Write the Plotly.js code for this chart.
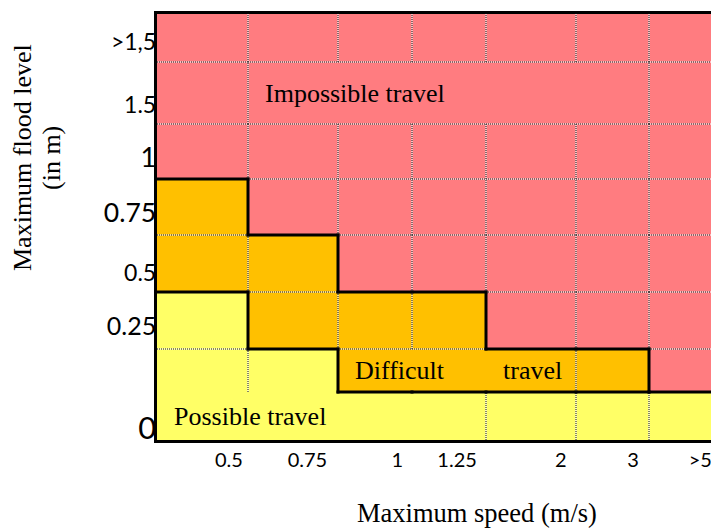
<!DOCTYPE html>
<html>
<head>
<meta charset="utf-8">
<script src="https://cdn.plot.ly/plotly-3.0.1.min.js"></script>
<style>
html,body{margin:0;padding:0;background:#fff;}
#chart{width:711px;height:528px;}
</style>
</head>
<body>
<div id="chart"></div>
<script>
// ---------------- DATA ----------------
// Speed classes (columns, left to right)
const speedLabels = ['0.5', '0.75', '1', '1.25', '2', '3', '>5'];
// Flood-level classes (rows, bottom to top); second row carries no label
const levelLabels = ['0', '', '0.25', '0.5', '0.75', '1', '1.5', '>1,5'];
// Zone codes: 0 = possible, 1 = difficult, 2 = impossible
const zoneNames = ['Possible travel', 'Difficult travel', 'Impossible travel'];
// One row of zone codes per flood level (bottom to top)
const zonesLevel0   = [0, 0, 0, 0, 0, 0, 0];
const zonesLevelA   = [0, 0, 1, 1, 1, 1, 2];
const zonesLevel025 = [0, 1, 1, 1, 2, 2, 2];
const zonesLevel05  = [1, 1, 2, 2, 2, 2, 2];
const zonesLevel075 = [1, 2, 2, 2, 2, 2, 2];
const zonesLevel1   = [2, 2, 2, 2, 2, 2, 2];
const zonesLevel15  = [2, 2, 2, 2, 2, 2, 2];
const zonesLevelGt  = [2, 2, 2, 2, 2, 2, 2];
const zones = [zonesLevel0, zonesLevelA, zonesLevel025, zonesLevel05,
               zonesLevel075, zonesLevel1, zonesLevel15, zonesLevelGt];
// Zone labels written in the table: [text, row, column]
const zoneLabelText = ['Impossible travel', 'Difficult', 'travel', 'Possible travel'];
const zoneLabelRow  = [6, 1, 1, 0];
const zoneLabelCol  = [1, 2, 4, 0];
// Axis titles
const xTitle = 'Maximum speed (m/s)';
const yTitleLines = ['Maximum flood level', '(in m)'];

// ---------------- LAYOUT CONFIG (sizes / positions / styles) ----------------
const colWidths  = [91, 90, 74, 74, 90, 73, 90];          // widths of table columns
const rowHeights = [48, 43, 57, 57, 56, 55, 62, 48];      // bottom to top
const xTickFrac  = [0.79, 0.66, 0.80, 0.61, 0.83, 0.78, 0.57];
const yLabelFrac = [0.26, null, 0.41, 0.34, 0.40, 0.39, 0.31, 0.43];
const yLabelSize = [31, 0, 25, 23, 26.5, 27, 23, 23];
const yTickBase  = 24;
// merged cells: hidden internal grid segments
const hiddenV = [[6,2],[6,3],[6,4],[6,5],[0,1],[0,2],[0,3],[1,3],[1,4]]; // [row, edge]
const hiddenH = [[1,0],[1,1]];                                          // [edge, col]
const colors = ['#FFFF66', '#FFC000', '#FF7C80'];
const serif = 'Liberation Serif, Times New Roman, serif';
const sans = 'Lato, Carlito, Calibri, sans-serif';

// ---------------- BUILD ----------------
function cum(a){ const e=[0]; a.forEach(v=>e.push(e[e.length-1]+v)); return e; }
const xE = cum(colWidths), yE = cum(rowHeights);
const nR = zones.length, nC = zones[0].length;
const plotW = 711 - 157, plotH = 528 - 14 - 88;

const has = (list, a, b) => list.some(p => p[0] === a && p[1] === b);
const gx = [], gy = [], tx = [], ty = [];
const ext = 1.5;
for (let r = 0; r < nR; r++) {
  for (let k = 1; k < nC; k++) {
    const x = xE[k];
    if (zones[r][k-1] !== zones[r][k]) { tx.push(x, x, null); ty.push(yE[r]-ext, yE[r+1]+ext, null); }
    else if (!has(hiddenV, r, k)) { gx.push(x, x, null); gy.push(yE[r], yE[r+1], null); }
  }
}
for (let j = 1; j < nR; j++) {
  for (let c = 0; c < nC; c++) {
    const y = yE[j];
    if (zones[j-1][c] !== zones[j][c]) { tx.push(xE[c]-ext, xE[c+1]+ext, null); ty.push(y, y, null); }
    else if (!has(hiddenH, j, c)) { gx.push(xE[c], xE[c+1], null); gy.push(y, y, null); }
  }
}

const traces = [
  {
    type: 'heatmap', x: xE, y: yE, z: zones, zmin: 0, zmax: 2, zsmooth: false,
    colorscale: [[0, colors[0]], [0.5, colors[1]], [1, colors[2]]],
    showscale: false, hoverinfo: 'skip',
    text: zones.map(row => row.map(v => zoneNames[v]))
  },
  { type: 'scatter', mode: 'lines', x: gx, y: gy, hoverinfo: 'skip', showlegend: false,
    line: { color: '#ffffff', width: 1 } },
  { type: 'scatter', mode: 'lines', x: gx, y: gy, hoverinfo: 'skip', showlegend: false,
    line: { color: '#111111', width: 1, dash: '1px,1px' } },
  { type: 'scatter', mode: 'lines', x: tx, y: ty, hoverinfo: 'skip', showlegend: false,
    line: { color: '#000000', width: 3 } }
];

const xTickVals = colWidths.map((w, i) => xE[i] + xTickFrac[i] * w);
const yTickVals = [], yTickText = [];
levelLabels.forEach((lab, r) => {
  if (!lab) return;
  const s = yLabelSize[r];
  const target = yE[r] + yLabelFrac[r] * rowHeights[r];
  yTickVals.push(target + 0.35 * yTickBase - 0.358 * s);
  yTickText.push('<span style="font-size:' + s + 'px">' + lab + '</span>');
});

const annotations = zoneLabelText.map((t, i) => ({
  text: t, x: xE[zoneLabelCol[i]], y: yE[zoneLabelRow[i]] + rowHeights[zoneLabelRow[i]] / 2,
  xref: 'x', yref: 'y', xanchor: 'left', yanchor: 'middle', xshift: 15, showarrow: false,
  font: { family: serif, size: 26, color: '#000' }
}));
// axis titles (placed as annotations: the table in the source is cropped on the right)
annotations.push({
  text: xTitle, xref: 'paper', yref: 'paper', x: (477 - 157) / plotW, y: 0,
  xanchor: 'center', yanchor: 'top', yshift: -56, showarrow: false,
  font: { family: serif, size: 26.5, color: '#000' }
});
yTitleLines.forEach((t, i) => annotations.push({
  text: t, xref: 'paper', yref: 'paper', x: 0, y: (440 - 158) / plotH,
  xanchor: 'center', yanchor: 'middle', xshift: -(157 - 22) + i * 29, showarrow: false,
  textangle: -90, font: { family: serif, size: 26, color: '#000' }
}));

const layout = {
  width: 711, height: 528,
  margin: { l: 157, r: 0, t: 14, b: 88, pad: 0 },
  paper_bgcolor: '#ffffff', plot_bgcolor: '#ffffff',
  showlegend: false,
  xaxis: {
    range: [0, plotW], tickmode: 'array', tickvals: xTickVals, ticktext: speedLabels,
    ticks: '', showgrid: false, zeroline: false, showline: true, mirror: true,
    linewidth: 3, linecolor: '#000', fixedrange: true, ticklabeloverflow: 'allow',
    tickfont: { family: sans, size: 20, color: '#000' }
  },
  yaxis: {
    range: [0, plotH], tickmode: 'array', tickvals: yTickVals, ticktext: yTickText,
    ticks: '', showgrid: false, zeroline: false, showline: true, mirror: false,
    linewidth: 3, linecolor: '#000', fixedrange: true, ticklabelstandoff: -7,
    tickfont: { family: sans, size: yTickBase, color: '#000' }
  },
  annotations: annotations
};

Plotly.newPlot('chart', traces, layout, { displayModeBar: false, staticPlot: true });
</script>
</body>
</html>
